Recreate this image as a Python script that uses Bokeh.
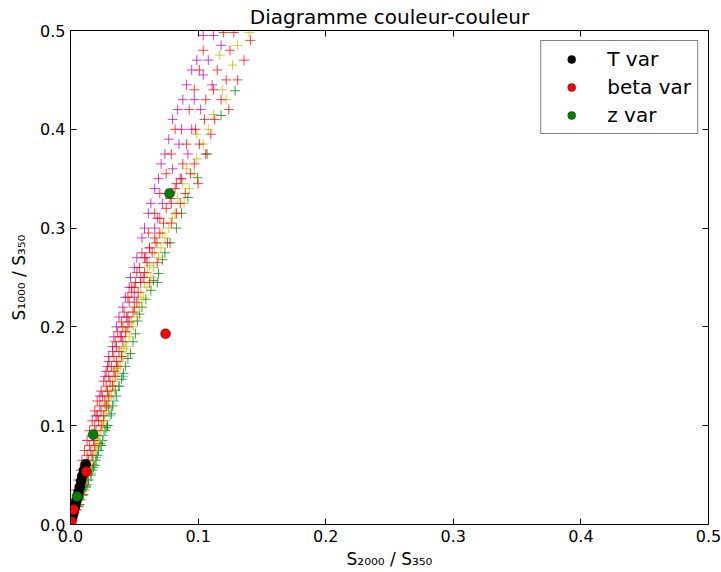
from bokeh.plotting import figure
from bokeh.models import LinearAxis, Legend, LegendItem, Range1d, FixedTicker, CustomJSTickFormatter
from bokeh.embed import file_html
from bokeh.resources import INLINE

# ---- data ----
m_x = [0.104,0.112,0.118,0.099,0.108,0.095,0.104,0.091,0.111,0.088,0.097,0.084,0.102,0.080,0.087,0.095,0.077,0.085,0.074,0.092,0.071,0.080,0.069,0.087,0.066,0.075,0.063,0.072,0.061,0.068,0.058,0.066,0.056,0.062,0.052,0.059,0.050,0.047,0.055,0.046,0.043,0.050,0.041,0.038,0.045,0.036,0.034,0.040,0.033,0.030,0.029,0.027,0.023,0.020]
m_y = [0.495,0.495,0.485,0.470,0.470,0.460,0.455,0.445,0.445,0.430,0.430,0.420,0.420,0.410,0.400,0.400,0.390,0.385,0.375,0.375,0.365,0.360,0.350,0.350,0.340,0.335,0.325,0.325,0.315,0.310,0.300,0.300,0.290,0.280,0.270,0.270,0.260,0.250,0.250,0.240,0.230,0.230,0.220,0.210,0.210,0.200,0.190,0.190,0.180,0.170,0.160,0.150,0.130,0.110]

r_x = [0.120,0.128,0.141,0.104,0.125,0.136,0.115,0.101,0.122,0.131,0.097,0.112,0.118,0.106,0.093,0.124,0.105,0.113,0.082,0.098,0.110,0.091,0.101,0.079,0.106,0.088,0.097,0.075,0.094,0.083,0.100,0.070,0.090,0.079,0.086,0.066,0.083,0.073,0.079,0.061,0.070,0.067,0.076,0.056,0.064,0.060,0.068,0.052,0.058,0.055,0.062,0.048,0.053,0.046,0.052,0.042,0.049,0.040,0.046,0.037,0.043,0.035,0.041,0.033,0.038,0.030,0.036,0.028,0.034,0.026,0.031,0.024,0.029,0.021,0.027,0.019,0.024,0.017,0.022,0.015,0.020,0.013,0.018,0.011,0.016,0.009,0.014,0.008,0.012,0.006,0.010,0.004,0.008,0.003,0.006,0.002,0.004,0.001,
       0.050,0.057,0.045,0.050,0.044,0.041,0.039,0.045,0.036,0.040,0.034,0.032,0.037,0.030,0.035,0.028,0.033,0.025,0.030,0.023,0.028,0.021,0.026,0.019,0.024,0.017,0.021,0.015,0.019,0.013,0.017,0.011,0.015,0.009,0.013,0.007,0.011,0.005,0.009,0.004,0.007,0.002,
       0.066,0.062,0.058,0.070,0.075,0.078,0.082,0.086,0.054,0.051,0.048]
r_y = [0.498,0.498,0.490,0.480,0.480,0.470,0.460,0.460,0.450,0.450,0.440,0.440,0.430,0.430,0.420,0.420,0.410,0.410,0.400,0.400,0.395,0.385,0.385,0.375,0.375,0.365,0.365,0.355,0.355,0.345,0.345,0.335,0.335,0.325,0.325,0.315,0.315,0.305,0.305,0.295,0.295,0.285,0.285,0.275,0.275,0.265,0.265,0.255,0.255,0.245,0.245,0.235,0.235,0.225,0.225,0.215,0.215,0.205,0.205,0.195,0.195,0.185,0.185,0.175,0.175,0.165,0.165,0.155,0.155,0.145,0.145,0.135,0.135,0.125,0.125,0.115,0.115,0.105,0.105,0.095,0.095,0.085,0.085,0.075,0.075,0.065,0.065,0.055,0.055,0.045,0.045,0.035,0.035,0.025,0.025,0.015,0.015,0.005,
       0.240,0.250,0.230,0.220,0.210,0.200,0.190,0.200,0.180,0.170,0.170,0.160,0.160,0.150,0.150,0.140,0.140,0.130,0.130,0.120,0.120,0.110,0.110,0.100,0.100,0.090,0.090,0.080,0.080,0.070,0.070,0.060,0.060,0.050,0.050,0.040,0.040,0.030,0.030,0.020,0.020,0.010,
       0.290,0.280,0.270,0.310,0.320,0.330,0.340,0.350,0.260,0.245,0.240]

y_x = [0.140,0.131,0.117,0.127,0.119,0.122,0.112,0.108,0.099,0.104,0.099,0.097,0.088,0.093,0.089,0.082,0.080,0.077,0.074,0.068,0.071,0.069,0.065,0.060,0.063,0.060,0.055,0.057,0.054,0.052,0.049,0.044,0.046,0.044,0.040,0.041,0.039,0.035,0.037,0.034,0.031,0.032,0.029,0.028,0.027,0.025,0.024,0.023,0.021,0.019,0.018,0.016,0.015,0.013,0.011,0.010,0.008,0.006,
       0.066,0.062,0.058,0.053,0.050,0.048,0.043,0.042,0.038,0.036,0.033,0.030,0.028,0.026,0.022,0.020,0.017,0.014,0.012,0.009,0.007,0.005,0.072,0.084,0.091]
y_y = [0.498,0.485,0.475,0.465,0.440,0.430,0.415,0.400,0.395,0.385,0.370,0.355,0.345,0.340,0.325,0.315,0.310,0.300,0.290,0.285,0.280,0.270,0.260,0.255,0.250,0.240,0.235,0.230,0.220,0.210,0.200,0.195,0.190,0.180,0.175,0.170,0.160,0.155,0.150,0.140,0.135,0.130,0.120,0.115,0.110,0.100,0.095,0.090,0.080,0.075,0.070,0.060,0.055,0.050,0.040,0.035,0.030,0.020,
       0.275,0.262,0.245,0.228,0.215,0.205,0.185,0.178,0.165,0.158,0.145,0.128,0.122,0.105,0.085,0.078,0.065,0.052,0.045,0.032,0.025,0.015,0.295,0.330,0.360]

g_x = [0.129,0.118,0.107,0.0995,0.092,0.078,0.074,0.069,0.068,0.063,0.056,0.0525,0.051,0.047,0.043,0.0415,0.038,0.035,0.033,0.030,0.029,0.026,0.027,0.025,0.024,0.022,0.020,0.019,0.017,0.014,0.013,0.011,0.008,0.007,0.005,
       0.049,0.045,0.040,0.036,0.032,0.028,0.023,0.021,0.018,0.016,0.012,0.010,0.006,0.054,0.059,0.065,0.072,0.083,0.087]
g_y = [0.439,0.414,0.375,0.351,0.331,0.285,0.275,0.254,0.245,0.237,0.220,0.206,0.193,0.173,0.160,0.153,0.140,0.136,0.120,0.118,0.100,0.105,0.095,0.085,0.080,0.075,0.065,0.060,0.055,0.045,0.040,0.035,0.025,0.020,0.015,
       0.185,0.168,0.147,0.130,0.112,0.098,0.082,0.070,0.058,0.050,0.038,0.030,0.018,0.213,0.228,0.247,0.268,0.300,0.315]

c_x = [0.041,0.034,0.031,0.026,0.022,0.018,0.014,0.010,0.006,0.038,0.029,0.024,0.020,0.016,0.012]
c_y = [0.150,0.125,0.110,0.090,0.075,0.060,0.045,0.030,0.018,0.140,0.100,0.080,0.068,0.052,0.038]

b_x = [0.0015,0.002,0.003,0.004,0.005,0.006,0.007,0.008,0.0025,0.0035]
b_y = [0.004,0.008,0.012,0.020,0.026,0.032,0.038,0.044,0.010,0.016]

t_x = [0.0015,0.0022,0.0030,0.0038,0.0046,0.0055,0.0063,0.0073,0.0083,0.0092,0.0105,0.0118]
t_y = [0.008,0.012,0.016,0.020,0.024,0.028,0.033,0.038,0.044,0.049,0.055,0.061]

beta_x = [0.0008,0.0026,0.0125,0.0745]
beta_y = [0.003,0.0149,0.0536,0.193]

z_x = [0.0052,0.0178,0.0776]
z_y = [0.0283,0.091,0.335]

ticks = [0.0, 0.1, 0.2, 0.3, 0.4, 0.5]
tick_labels = {0.0: "0.0", 0.1: "0.1", 0.2: "0.2", 0.3: "0.3", 0.4: "0.4", 0.5: "0.5"}

FONT = "DejaVu Sans"

p = figure(width=721, height=572, output_backend="svg", toolbar_location=None,
           x_range=Range1d(0, 0.5), y_range=Range1d(0, 0.5),
           min_border_left=70, min_border_right=13, min_border_top=30, min_border_bottom=48,
           title="Diagramme couleur-couleur")
p.title.text_font = FONT
p.title.text_font_size = "20px"
p.title.text_font_style = "normal"
p.title.text_color = "black"
p.title.align = "center"
p.title.standoff = 4
p.grid.visible = False
p.outline_line_color = "black"
p.outline_line_width = 1
p.background_fill_color = "white"
p.border_fill_color = "white"

for ax in (p.xaxis[0], p.yaxis[0]):
    ax.ticker = FixedTicker(ticks=ticks)
    ax.major_label_overrides = tick_labels
    ax.major_tick_in = 6
    ax.major_tick_out = 0
    ax.minor_tick_in = 0
    ax.minor_tick_out = 0
    ax.axis_line_color = None
    ax.major_tick_line_color = "black"
    ax.major_label_text_font = FONT
    ax.major_label_text_font_size = "16px"
    ax.major_label_text_color = "black"
    ax.axis_label_text_font = FONT
    ax.axis_label_text_font_size = "17px"
    ax.axis_label_text_font_style = "normal"
    ax.axis_label_text_color = "black"
    ax.major_label_standoff = 5

p.xaxis[0].axis_label = "S₂₀₀₀ / S₃₅₀"
p.yaxis[0].axis_label = "S₁₀₀₀ / S₃₅₀"
p.xaxis[0].axis_label_standoff = 4
p.yaxis[0].axis_label_standoff = 8

for side in ("above", "right"):
    ax = LinearAxis(ticker=FixedTicker(ticks=ticks), major_tick_in=6, major_tick_out=0,
                    minor_tick_in=0, minor_tick_out=0, axis_line_color=None,
                    major_tick_line_color="black",
                    formatter=CustomJSTickFormatter(code="return ''"),
                    major_label_standoff=0)
    p.add_layout(ax, side)

def crosses(xs, ys, color):
    p.scatter(xs, ys, marker="cross", size=10, line_color=color, line_width=1, line_alpha=0.75)

crosses(b_x, b_y, "#0000ff")
crosses(c_x, c_y, "#00bfbf")
crosses(g_x, g_y, "#008000")
crosses(y_x, y_y, "#bfbf00")
crosses(m_x, m_y, "#bf00bf")
crosses(r_x, r_y, "#ff0000")

rt = p.scatter(t_x, t_y, marker="circle", size=10, fill_color="black", line_color="black", line_width=0.5)
rb = p.scatter(beta_x, beta_y, marker="circle", size=10, fill_color="#ff0000", line_color="#222222", line_width=0.5)
rz = p.scatter(z_x, z_y, marker="circle", size=10, fill_color="#008000", line_color="#222222", line_width=0.5)

legend = Legend(items=[LegendItem(label="T var", renderers=[rt]),
                       LegendItem(label="beta var", renderers=[rb]),
                       LegendItem(label="z var", renderers=[rz])],
                location="top_right")
legend.label_text_font = FONT
legend.label_text_font_size = "20px"
legend.label_text_color = "black"
legend.label_height = 20
legend.border_line_color = "black"
legend.border_line_width = 1
legend.background_fill_alpha = 1
legend.glyph_width = 48
legend.glyph_height = 20
legend.spacing = 4
legend.padding = 6
legend.margin = 10
legend.label_standoff = 12
p.add_layout(legend)

open("out.html", "w").write(file_html(p, INLINE))
